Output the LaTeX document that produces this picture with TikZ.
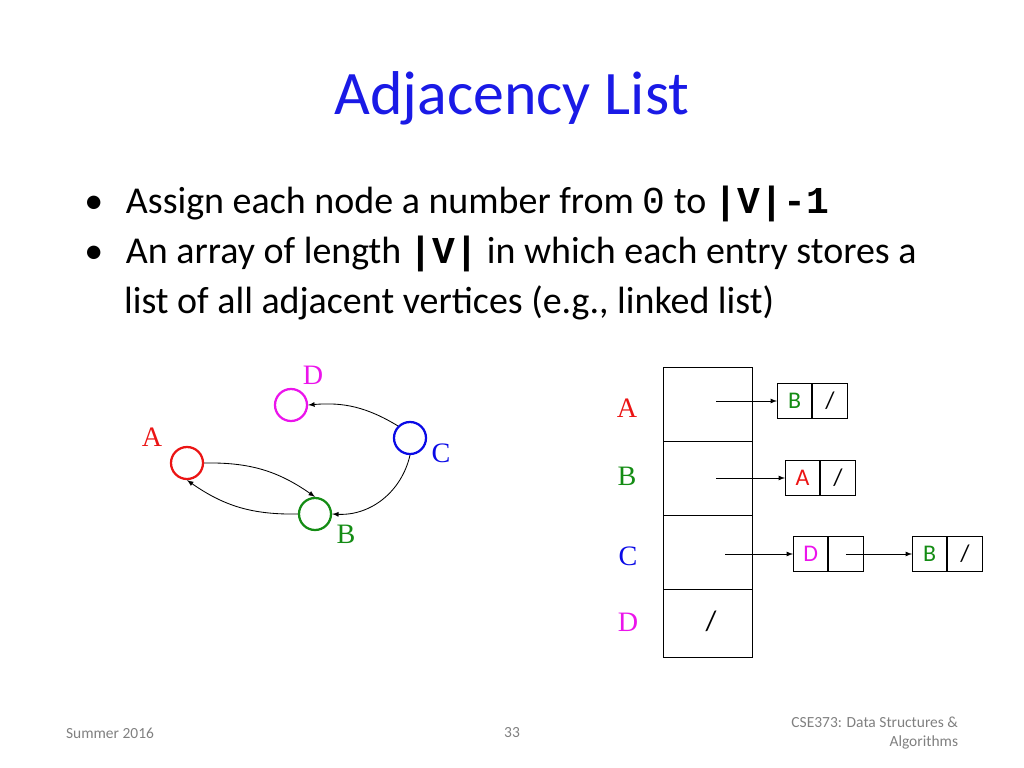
\documentclass[tikz,border=0pt]{standalone}
\usepackage{fontspec}
\setmainfont{Carlito}
\newfontfamily\tnr{Liberation Serif}
\newfontfamily\cnb{Liberation Mono}
\usetikzlibrary{positioning}
\definecolor{titleblue}{RGB}{26,26,230}
\definecolor{vred}{RGB}{235,20,20}
\definecolor{vgreen}{RGB}{20,140,20}
\definecolor{vblue}{RGB}{10,10,230}
\definecolor{vmag}{RGB}{235,20,235}
\tikzset{
  vert/.style={circle, line width=1.6pt, minimum size=0.8cm, inner sep=0pt},
  vlab/.style={font=\tnr\fontsize{20}{20}\selectfont},
  cell/.style={draw, line width=0.6pt, minimum width=0.86cm, minimum height=0.86cm, inner sep=0pt, font=\fontsize{17}{17}\selectfont},
  link/.style={-latex, line width=0.6pt},
  bul/.style={anchor=north west, align=left, inner sep=0pt, font=\fontsize{27}{35}\selectfont}
}
\begin{document}
\begin{tikzpicture}[x=0.025cm, y=-0.025cm]
    \useasboundingbox (0,0) rectangle (1024,768);
    % Title and bullets
    \node (title) at (512,98) {\fontsize{44}{44}\selectfont\color{titleblue}Adjacency List};
    \node[bul] (b1) at (84,186) {•\hspace{0.6em}Assign each node a number from {\cnb 0} to \textbf{\cnb|V|-1}};
    \node[bul] (b2) at (84,236) {•\hspace{0.6em}An array of length \textbf{\cnb|V|} in which each entry stores a\\ \hspace{1.05em}list of all adjacent vertices (e.g., linked list)};

    % Graph
    \node[vert, draw=vmag] (D) at (291,405) {};
    \node[vert, draw=vblue] (C) at (410,438) {};
    \node[vert, draw=vred] (A) at (187,463) {};
    \node[vert, draw=vgreen] (B) at (315,514) {};
    \node[vlab, text=vmag] (Dl) at (313,375) {D};
    \node[vlab, text=vblue] (Cl) at (441,453) {C};
    \node[vlab, text=vred] (Al) at (152,437) {A};
    \node[vlab, text=vgreen] (Bl) at (346,534) {B};
    \draw[link] (C.north west) to[bend right=18] (D.east);
    \draw[link] (A.east) to[bend left=18] (B.north);
    \draw[link] (B.west) to[bend left=18] (A.south);
    \draw[link] (C.south) to[bend left=40] (B.east);

    % Array
    \draw[line width=0.7pt] (663,367) rectangle (752,657);
    \foreach \y in {441,515,589}
        \draw[line width=0.7pt] (663,\y) -- (752,\y);
    \node[vlab, text=vred] (aA) at (627,408) {A};
    \node[vlab, text=vgreen] (aB) at (627,476) {B};
    \node[vlab, text=vblue] (aC) at (628,556) {C};
    \node[vlab, text=vmag] (aD) at (628,622) {D};
    \node[font=\fontsize{20}{20}\selectfont] (nD) at (711,621) {/};

    % Lists
    \node[cell, text=vgreen, anchor=west] (lA1) at (777,401) {B};
    \node[cell, right=0pt of lA1] (lA2) {/};
    \node[cell, text=vred, anchor=west] (lB1) at (785,478) {A};
    \node[cell, right=0pt of lB1] (lB2) {/};
    \node[cell, text=vmag, anchor=west] (lC1) at (793,554) {D};
    \node[cell, right=0pt of lC1] (lC2) {};
    \node[cell, text=vgreen, anchor=west] (lC3) at (912,554) {B};
    \node[cell, right=0pt of lC3] (lC4) {/};
    \coordinate (pA) at (716,401);
    \coordinate (pB) at (716,478);
    \coordinate (pC) at (725,554);
    \draw[link] (pA) -- (lA1);
    \draw[link] (pB) -- (lB1);
    \draw[link] (pC) -- (lC1);
    \draw[link] (lC2.center) -- (lC3);

    % Footer
    \node[font=\fontsize{11}{11}\selectfont, text=gray] (f1) at (110,733) {Summer 2016};
    \node[font=\fontsize{11}{11}\selectfont, text=gray] (f2) at (512,733) {33};
    \node[font=\fontsize{11}{14}\selectfont, text=gray, align=right, anchor=east] (f3) at (963,733) {CSE373: Data Structures \&\\ Algorithms};
\end{tikzpicture}
\end{document}
